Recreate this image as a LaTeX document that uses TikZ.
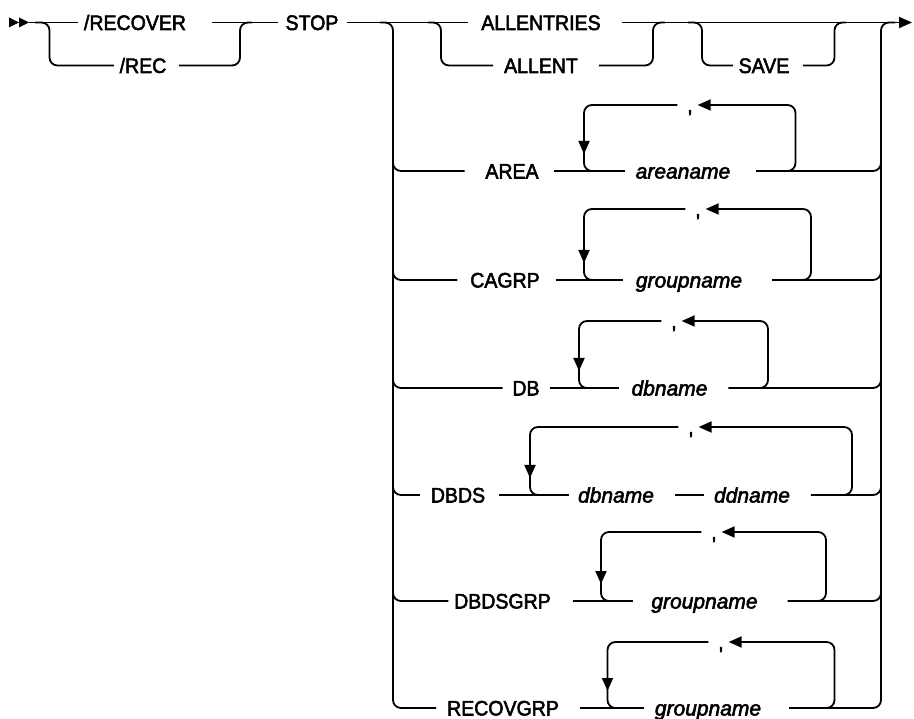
\documentclass[tikz,border=0pt]{standalone}
\usepackage{fontspec}
\newfontfamily\kwf{Liberation Sans}[FakeStretch=0.93,FakeBold=2.5]
\newfontfamily\vrf{Liberation Sans}[FakeBold=2.5]
\usetikzlibrary{arrows.meta}
\begin{document}
\begin{tikzpicture}[x=1pt,y=-1pt,line width=1.8pt,
  rr/.style={rounded corners=8pt},
  rtip/.style={-{Triangle[length=13pt,width=11pt]}},
  kw/.style={inner sep=0pt,text height=15pt,text depth=0pt,font=\kwf\fontsize{21pt}{24pt}\selectfont},
  vr/.style={kw,font=\vrf\itshape\fontsize{21pt}{24pt}\selectfont}]
\useasboundingbox (0,0) rectangle (914,719);
% start marker
\fill (9,17.5) -- (19,22.5) -- (9,27.5) -- cycle;
\fill (19,17.5) -- (29,22.5) -- (19,27.5) -- cycle;
\coordinate (start) at (29,22.5);
\coordinate (end) at (912,22.5);
% top tokens
\node[kw] (recover) at (135,22.5) {/RECOVER};
\node[kw] (rec) at (143,65.5) {/REC};
\node[kw] (stop) at (312,22.5) {STOP};
\node[kw] (allentries) at (541,22.5) {ALLENTRIES};
\node[kw] (allent) at (541,65.5) {ALLENT};
\node[kw] (save) at (764,65.5) {SAVE};
\draw (start) -- ([xshift=-5pt]recover.west);
\draw ([xshift=25pt]recover.east) -- ([xshift=-7pt]stop.west);
\draw[rr] (35,22.5) -| (49.5,65.5) -- ([xshift=-5pt]rec.west);
\draw[rr] ([xshift=12pt]rec.east) -| (240,22.5) -- (252,22.5);
\draw ([xshift=8pt]stop.east) -- ([xshift=-12pt]allentries.west);
\draw[rtip] ([xshift=20pt]allentries.east) -- (end);
\draw[rr] (428,22.5) -| (441,65.5) -- ([xshift=-10pt]allent.west);
\draw[rr] ([xshift=20pt]allent.east) -| (653,22.5) -- (665,22.5);
\draw[rr] (688,22.5) -| (702,65.5) -- ([xshift=-5pt]save.west);
\draw[rr] ([xshift=13pt]save.east) -| (834.5,22.5) -- (846,22.5);
% row tokens
\node[kw] (area) at (512,171) {AREA};
\node[vr] (areaname) at (683,171) {areaname};
\node[kw] (cm1) at (690,105) {,};
\node[kw] (cagrp) at (505,280) {CAGRP};
\node[vr] (gr2) at (689,280) {groupname};
\node[kw] (cm2) at (698,209) {,};
\node[kw] (db) at (526,388) {DB};
\node[vr] (dbname) at (669.5,388) {dbname};
\node[kw] (cm3) at (674,321) {,};
\node[kw] (dbds) at (458,495) {DBDS};
\node[vr] (dbname2) at (616,495) {dbname};
\node[vr] (ddname) at (752,495) {ddname};
\node[kw] (cm4) at (691,427) {,};
\node[kw] (dbdsgrp) at (502.5,601) {DBDSGRP};
\node[vr] (gr5) at (704.5,601) {groupname};
\node[kw] (cm5) at (714,532) {,};
\node[kw] (recovgrp) at (503,708) {RECOVGRP};
\node[vr] (gr6) at (708,708) {groupname};
\node[kw] (cm6) at (721,642) {,};
% big verticals
\draw[rr] (380,22.5) -| (393,708) -- ([xshift=-10pt]recovgrp.west);
\draw[rr] ([xshift=27pt]gr6.east) -| (881,22.5) -- (895,22.5);
% AREA
\draw[rr] (393,150) |- ([xshift=-20pt]area.west);
\draw ([xshift=15pt]area.east) -- ([xshift=-10pt]areaname.west);
\draw[rr] ([xshift=25pt]areaname.east) -| (881,150);
\draw[rr,rtip] (780,171) -| (795.5,105) -- ([xshift=4pt]cm1.east);
\draw[rr,rtip] ([xshift=-9pt]cm1.west) -| (584,154);
\draw[rr] (584,145) |- (600,171);
% CAGRP
\draw[rr] (393,259) |- ([xshift=-12pt]cagrp.west);
\draw ([xshift=15pt]cagrp.east) -- ([xshift=-12pt]gr2.west);
\draw[rr] ([xshift=29pt]gr2.east) -| (881,259);
\draw[rr,rtip] (795,280) -| (811,209) -- ([xshift=4pt]cm2.east);
\draw[rr,rtip] ([xshift=-9pt]cm2.west) -| (584,263);
\draw[rr] (584,254) |- (600,280);
% DB
\draw[rr] (393,367) |- ([xshift=-9pt]db.west);
\draw ([xshift=10pt]db.east) -- ([xshift=-12pt]dbname.west);
\draw[rr] ([xshift=20pt]dbname.east) -| (881,367);
\draw[rr,rtip] (752,388) -| (768,321) -- ([xshift=4pt]cm3.east);
\draw[rr,rtip] ([xshift=-9pt]cm3.west) -| (579,371);
\draw[rr] (579,362) |- (595,388);
% DBDS
\draw[rr] (393,474) |- ([xshift=-10pt]dbds.west);
\draw ([xshift=13pt]dbds.east) -- ([xshift=-8pt]dbname2.west);
\draw ([xshift=20pt]dbname2.east) -- ([xshift=-9pt]ddname.west);
\draw[rr] ([xshift=20pt]ddname.east) -| (881,474);
\draw[rr,rtip] (836,495) -| (852,427) -- ([xshift=4pt]cm4.east);
\draw[rr,rtip] ([xshift=-9pt]cm4.west) -| (530,478);
\draw[rr] (530,469) |- (546,495);
% DBDSGRP
\draw[rr] (393,580) |- ([xshift=-5pt]dbdsgrp.west);
\draw ([xshift=21pt]dbdsgrp.east) -- ([xshift=-17pt]gr5.west);
\draw[rr] ([xshift=29pt]gr5.east) -| (881,580);
\draw[rr,rtip] (810,601) -| (826,532) -- ([xshift=4pt]cm5.east);
\draw[rr,rtip] ([xshift=-9pt]cm5.west) -| (601,584);
\draw[rr] (601,575) |- (617,601);
% RECOVGRP
\draw ([xshift=20pt]recovgrp.east) -- ([xshift=-10pt]gr6.west);
\draw[rr,rtip] (818,708) -| (834.5,642) -- ([xshift=4pt]cm6.east);
\draw[rr,rtip] ([xshift=-9pt]cm6.west) -| (607.5,691);
\draw[rr] (607.5,682) |- (623.5,708);
\end{tikzpicture}
\end{document}
